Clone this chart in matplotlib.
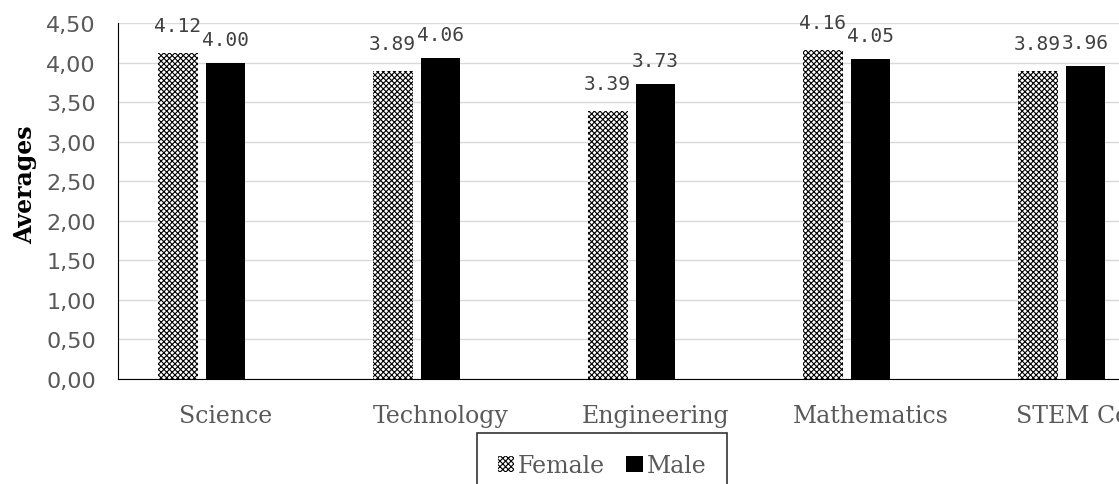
import matplotlib
matplotlib.use('Agg')
import matplotlib.pyplot as plt
import numpy as np
from matplotlib.patches import Patch

categories = ['Science', 'Technology', 'Engineering', 'Mathematics', 'STEM Core']
female = [4.12, 3.89, 3.39, 4.16, 3.89]
male = [4.00, 4.06, 3.73, 4.05, 3.96]
yticks = [0, 0.5, 1.0, 1.5, 2.0, 2.5, 3.0, 3.5, 4.0, 4.5]

plt.rcParams['hatch.linewidth'] = 0.8
plt.rcParams['hatch.color'] = 'black'

W, H = 1119, 485
fig = plt.figure(figsize=(W / 100, H / 100), dpi=100)
# axes runs past the right edge, like the cropped original
ax = fig.add_axes([118 / W, (H - 380) / H, 1075 / W, 356 / H])

x = np.arange(len(categories))
bw = 0.186
step = 0.223
b1 = ax.bar(x - step, female, bw, facecolor='white', edgecolor='black',
            hatch='xxxxxx', linewidth=0, label='Female')
b2 = ax.bar(x, male, bw, color='black', label='Male')

for rect, v in zip(b1, female):
    ax.annotate('%.2f' % v, (rect.get_x() + rect.get_width() / 2, v),
                xytext=(0, 18), textcoords='offset pixels', ha='center', va='bottom',
                fontsize=14, color='#404040', family='DejaVu Sans Mono')
for rect, v in zip(b2, male):
    ax.annotate('%.2f' % v, (rect.get_x() + rect.get_width() / 2, v),
                xytext=(0, 14), textcoords='offset pixels', ha='center', va='bottom',
                fontsize=14, color='#404040', family='DejaVu Sans Mono')

ax.set_xlim(-0.5, len(categories) - 0.5)
ax.set_ylim(0, 4.5)
ax.set_yticks(yticks)
ax.set_yticklabels([('%.2f' % t).replace('.', ',') for t in yticks], fontsize=16,
                   color='#595959', family='DejaVu Sans')
ax.set_xticks(x)
ax.set_xticklabels(categories, fontsize=17, color='#595959', family='DejaVu Serif')
ax.tick_params(axis='y', length=0, pad=16)
ax.tick_params(axis='x', length=0, pad=18)

ax.grid(axis='y', color='#d9d9d9', linewidth=1)
ax.set_axisbelow(True)
for s in ['top', 'right']:
    ax.spines[s].set_visible(False)
ax.spines['left'].set_color('black')
ax.spines['bottom'].set_color('black')

ax.set_ylabel('Averages', fontsize=17, fontweight='bold', family='DejaVu Serif')
ax.yaxis.set_label_coords(-(118 - 37) / 1075, (380 - 185) / 356)

handles = [Patch(facecolor='white', edgecolor='black', hatch='xxxxxx', linewidth=0),
           Patch(facecolor='black')]
leg = fig.legend(handles, ['Female', 'Male'], loc='upper center',
                 bbox_to_anchor=(602 / W, (H - 422) / H), ncol=2, frameon=True,
                 fancybox=False, edgecolor='black', handlelength=0.7, handleheight=0.7,
                 handletextpad=0.15, columnspacing=0.9, borderpad=0.9,
                 prop={'family': 'DejaVu Serif', 'size': 17})
leg.get_frame().set_linewidth(1.2)
for t in leg.get_texts():
    t.set_color('#595959')

fig.savefig('out.png', dpi=100)
